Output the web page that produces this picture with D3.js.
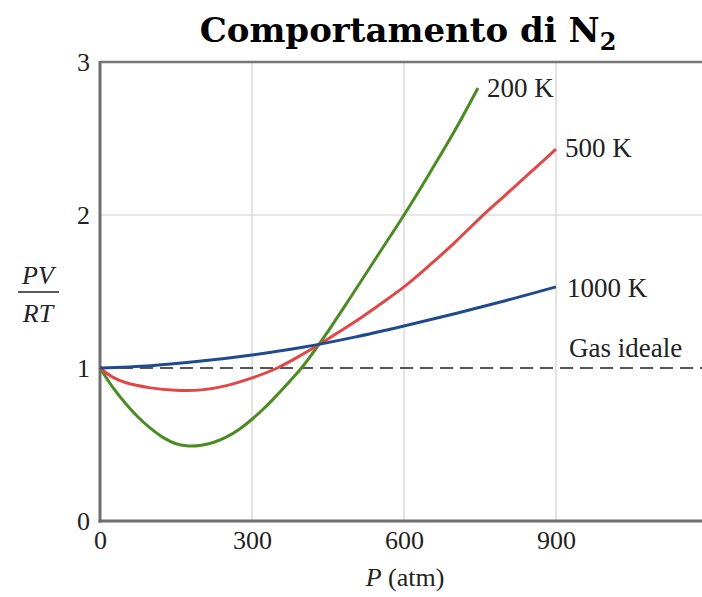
<!DOCTYPE html>
<html>
<head>
<meta charset="utf-8">
<script src="https://cdn.jsdelivr.net/npm/d3@7"></script>
<style>
  body { margin: 0; background: #fff; }
  text { font-family: "Liberation Serif", "DejaVu Serif", serif; fill: #222; }
</style>
</head>
<body>
<script>
// values
const pressures200 = [0, 25, 50, 75, 100, 125, 150, 175, 200, 225, 250, 275, 300, 325, 350, 375, 400, 450, 500, 550, 600, 650, 700, 746];
const z200 = [1.0, 0.875, 0.77, 0.68, 0.605, 0.545, 0.505, 0.49, 0.495, 0.515, 0.55, 0.60, 0.665, 0.74, 0.825, 0.915, 1.01, 1.24, 1.49, 1.745, 2.0, 2.27, 2.55, 2.83];

const pressures500 = [0, 25, 50, 100, 150, 200, 250, 300, 350, 400, 450, 500, 550, 600, 650, 700, 750, 800, 850, 900];
const z500 = [1.0, 0.94, 0.905, 0.87, 0.855, 0.857, 0.885, 0.935, 1.0, 1.09, 1.19, 1.295, 1.41, 1.53, 1.67, 1.82, 1.98, 2.13, 2.28, 2.43];

const pressures1000 = [0, 100, 200, 300, 400, 500, 600, 700, 800, 900];
const z1000 = [1.0, 1.015, 1.045, 1.085, 1.135, 1.2, 1.275, 1.355, 1.44, 1.53];

const seriesNames = ["200 K", "500 K", "1000 K"];
const seriesColors = ["#4a8b22", "#e04848", "#1f4b8e"];
const xTicks = [0, 300, 600, 900];
const yTicks = [0, 1, 2, 3];
const idealZ = 1;

const width = 702, height = 597;
const margin = {left: 100, top: 62, bottom: 76};

const svg = d3.select("body").append("svg")
    .attr("width", width)
    .attr("height", height);

const x = d3.scaleLinear().domain([0, 1200]).range([margin.left, 708]);
const y = d3.scaleLinear().domain([0, 3]).range([height - margin.bottom, margin.top]);

// grid
svg.append("g").selectAll("line")
    .data(xTicks.slice(1))
    .join("line")
    .attr("x1", d => x(d)).attr("x2", d => x(d))
    .attr("y1", y(3)).attr("y2", y(0))
    .attr("stroke", "#d0d0d0").attr("stroke-width", 1.2);

svg.append("g").selectAll("line")
    .data([2])
    .join("line")
    .attr("x1", x(0)).attr("x2", x(1200))
    .attr("y1", d => y(d)).attr("y2", d => y(d))
    .attr("stroke", "#d0d0d0").attr("stroke-width", 1.2);

// ideal gas dashed line
svg.append("line")
    .attr("x1", x(0)).attr("x2", x(1200))
    .attr("y1", y(idealZ)).attr("y2", y(idealZ))
    .attr("stroke", "#555").attr("stroke-width", 2)
    .attr("stroke-dasharray", "13,7");

// frame
svg.append("line")
    .attr("x1", x(0)).attr("x2", x(1200))
    .attr("y1", y(3)).attr("y2", y(3))
    .attr("stroke", "#777").attr("stroke-width", 2.5);
svg.append("line")
    .attr("x1", x(0)).attr("x2", x(0))
    .attr("y1", y(3) - 1).attr("y2", y(0) + 1.5)
    .attr("stroke", "#6e6e6e").attr("stroke-width", 3);
svg.append("line")
    .attr("x1", x(0) - 1.5).attr("x2", x(1200))
    .attr("y1", y(0)).attr("y2", y(0))
    .attr("stroke", "#6e6e6e").attr("stroke-width", 3);

// axes (labels only)
const xAxis = d3.axisBottom(x).tickValues(xTicks).tickSize(0).tickPadding(10).tickFormat(d3.format("d"));
svg.append("g")
    .attr("transform", "translate(0," + y(0) + ")")
    .call(xAxis)
    .call(g => g.select(".domain").remove())
    .selectAll("text")
    .attr("font-size", 26)
    .attr("fill", "#222")
    .style("font-family", "Liberation Serif, serif");

const yAxis = d3.axisLeft(y).tickValues(yTicks).tickSize(0).tickPadding(10).tickFormat(d3.format("d"));
svg.append("g")
    .attr("transform", "translate(" + x(0) + ",0)")
    .call(yAxis)
    .call(g => g.select(".domain").remove())
    .selectAll("text")
    .attr("font-size", 26)
    .attr("fill", "#222")
    .style("font-family", "Liberation Serif, serif");

// curves
const line = d3.line()
    .x(d => x(d[0]))
    .y(d => y(d[1]))
    .curve(d3.curveCatmullRom.alpha(0.5));

const series = [
    d3.zip(pressures200, z200),
    d3.zip(pressures500, z500),
    d3.zip(pressures1000, z1000)
];

svg.append("g").selectAll("path")
    .data(series)
    .join("path")
    .attr("d", line)
    .attr("fill", "none")
    .attr("stroke", (d, i) => seriesColors[i])
    .attr("stroke-width", 3);

// curve labels
const labelPos = [[487, 97], [565, 157], [567, 297]];
svg.append("g").selectAll("text")
    .data(seriesNames)
    .join("text")
    .attr("x", (d, i) => labelPos[i][0])
    .attr("y", (d, i) => labelPos[i][1])
    .attr("font-size", 27)
    .text(d => d);

svg.append("text")
    .attr("x", 569).attr("y", 357)
    .attr("font-size", 27)
    .text("Gas ideale");

// title
const title = svg.append("text")
    .attr("x", 408).attr("y", 42)
    .attr("text-anchor", "middle")
    .attr("font-size", 34)
    .attr("font-weight", "bold")
    .style("font-family", "DejaVu Serif, serif")
    .style("fill", "#000");
title.append("tspan").text("Comportamento di N");
title.append("tspan").attr("font-size", 24).attr("dy", 8).text("2");

// axis titles
const xl = svg.append("text")
    .attr("x", 405).attr("y", 586)
    .attr("text-anchor", "middle")
    .attr("font-size", 26);
xl.append("tspan").attr("font-style", "italic").text("P");
xl.append("tspan").text(" (atm)");

svg.append("text")
    .attr("x", 38).attr("y", 284)
    .attr("text-anchor", "middle")
    .attr("font-size", 26)
    .attr("font-style", "italic")
    .text("PV");
svg.append("line")
    .attr("x1", 18).attr("x2", 59)
    .attr("y1", 292).attr("y2", 292)
    .attr("stroke", "#222").attr("stroke-width", 1.5);
svg.append("text")
    .attr("x", 38).attr("y", 322)
    .attr("text-anchor", "middle")
    .attr("font-size", 26)
    .attr("font-style", "italic")
    .text("RT");
</script>
</body>
</html>
